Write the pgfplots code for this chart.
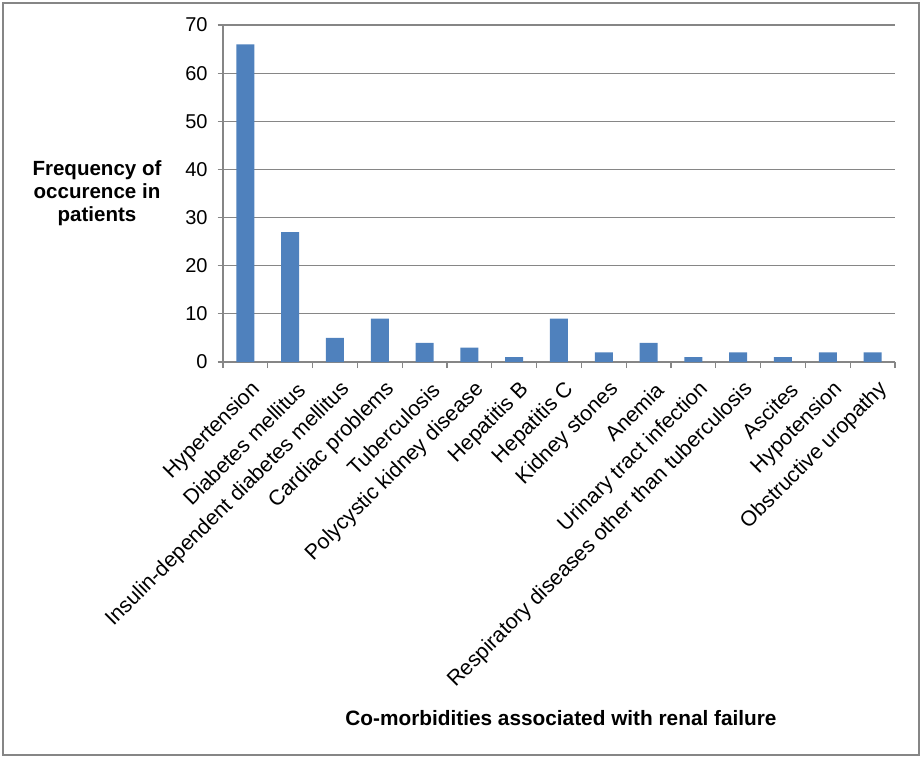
\documentclass[border=0pt]{standalone}
\usepackage{pgfplots}
\pgfplotsset{compat=1.18}
\usepackage{fontspec}
\setmainfont{Liberation Sans}
\definecolor{barblue}{HTML}{4F81BD}
\definecolor{axisgray}{HTML}{868686}
\begin{document}
\begin{tikzpicture}
\path[use as bounding box] (-167.25pt,-297pt) rectangle (524.25pt,271.5pt);
\draw[axisgray, line width=1.5pt] (-165pt,-294.75pt) rectangle (522pt,269.25pt);
\begin{axis}[
    at={(0,0)}, anchor=south west,
    scale only axis,
    width=504pt, height=252.75pt,
    xmin=0, xmax=15, ymin=0, ymax=70,
    ytick={0,10,...,70},
    xtick={0.5,1.5,...,14.5},
    xticklabels={Hypertension, Diabetes mellitus, Insulin-dependent diabetes mellitus, Cardiac problems, Tuberculosis, Polycystic kidney disease, Hepatitis B, Hepatitis C, Kidney stones, Anemia, Urinary tract infection, Respiratory diseases other than tuberculosis, Ascites, Hypotension, Obstructive uropathy},
    minor xtick={0,1,...,15},
    major x tick style={draw=none},
    minor tick length=4.5pt,
    major tick length=4pt,
    tick align=outside,
    tick style={axisgray, line width=0.8pt},
    axis x line*=bottom, axis y line*=left,
    axis line style={axisgray, line width=0.8pt, -},
    ymajorgrids, grid style={axisgray, line width=0.8pt},
    xticklabel style={rotate=45, anchor=east, font=\fontsize{16}{19}\selectfont, inner sep=1pt, xshift=-3pt, yshift=-16pt},
    yticklabel style={font=\fontsize{15}{18}\selectfont, xshift=-4pt},
    /pgf/number format/assume math mode=true,
    clip=false,
]
\addplot[ybar, bar width=13.5pt, bar shift=0pt, fill=barblue, draw=none] coordinates {
(0.5,66) (1.5,27) (2.5,5) (3.5,9) (4.5,4) (5.5,3) (6.5,1) (7.5,9)
(8.5,2) (9.5,4) (10.5,1) (11.5,2) (12.5,1) (13.5,2) (14.5,2)
};
\end{axis}
\node[align=center, font=\bfseries\fontsize{15.4}{17.25}\selectfont] at (-94.5pt,126.75pt) {Frequency of\\occurence in\\patients};
\node[font=\bfseries\fontsize{15.6}{17}\selectfont] at (253.5pt,-267pt) {Co-morbidities associated with renal failure};
\end{tikzpicture}
\end{document}
